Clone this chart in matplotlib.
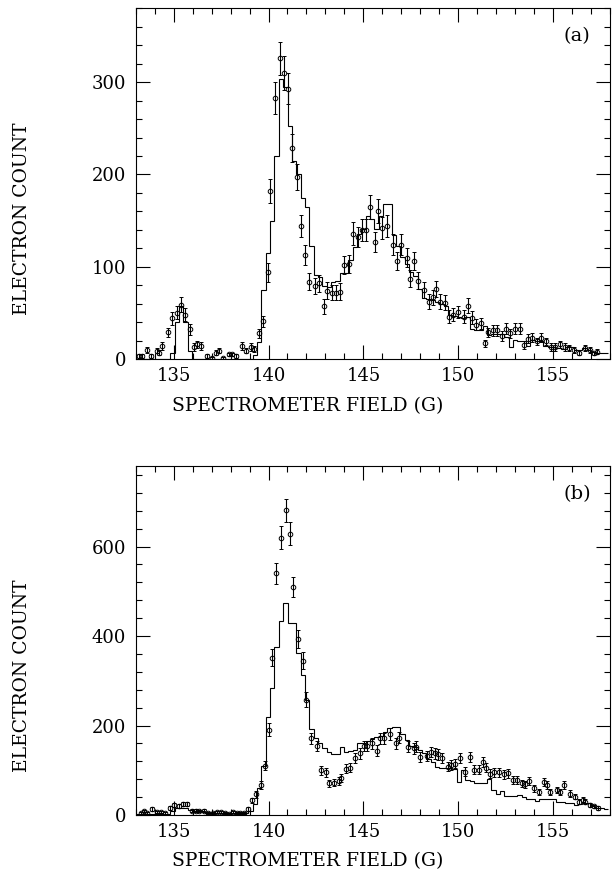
import matplotlib
matplotlib.use("Agg")
import matplotlib.pyplot as plt
import numpy as np
from matplotlib.ticker import MultipleLocator

plt.rcParams['font.family'] = ['DejaVu Serif']

# ---- panel (a): measured points ----
field_a = [133.17, 133.35, 133.57, 133.78, 134.10, 134.25, 134.40, 134.69, 134.90, 135.17,
           135.38, 135.60, 135.85, 136.06, 136.25, 136.45, 136.74, 137.00, 137.21, 137.39,
           137.58, 137.91, 138.08, 138.26, 138.59, 138.80, 139.06, 139.22, 139.48, 139.72,
           139.95, 140.07, 140.35, 140.63, 140.84, 141.05, 141.25, 141.48, 141.72, 141.92,
           142.14, 142.44, 142.68, 142.93, 143.08, 143.33, 143.57, 143.78, 143.97, 144.23,
           144.46, 144.72, 144.95, 145.12, 145.33, 145.61, 145.78, 145.99, 146.25, 146.55,
           146.79, 146.99, 147.28, 147.47, 147.65, 147.89, 148.17, 148.45, 148.66, 148.81,
           149.04, 149.32, 149.53, 149.74, 149.98, 150.28, 150.52, 150.75, 150.96, 151.20,
           151.41, 151.57, 151.81, 152.06, 152.32, 152.54, 152.75, 153.01, 153.26, 153.47,
           153.69, 153.90, 154.13, 154.36, 154.63, 154.88, 155.12, 155.37, 155.61, 155.86,
           156.10, 156.36, 156.67, 156.92, 157.16, 157.32]
count_a = [3, 3, 10, 3, 9, 7, 14, 29, 44, 50,
           59, 48, 32, 13, 16, 14, 3, 1, 7, 9,
           1, 5, 5, 3, 14, 9, 13, 11, 28, 41,
           94, 182, 283, 326, 310, 293, 229, 197, 144, 113,
           84, 79, 82, 57, 74, 72, 72, 73, 102, 103,
           136, 132, 140, 140, 165, 127, 160, 142, 144, 124,
           106, 124, 110, 87, 106, 85, 75, 62, 67, 76,
           62, 61, 46, 48, 51, 46, 58, 45, 37, 39,
           17, 29, 31, 31, 25, 33, 28, 33, 33, 15,
           22, 23, 19, 23, 19, 13, 13, 16, 13, 12,
           10, 7, 12, 10, 6, 8]
err_a = [2, 2, 3, 2, 3, 3, 4, 5, 7, 7,
         8, 7, 6, 4, 4, 4, 2, 1, 3, 3,
         1, 2, 2, 2, 4, 3, 4, 3, 5, 6,
         10, 13, 17, 18, 18, 17, 15, 14, 12, 11,
         9, 9, 9, 8, 9, 8, 8, 9, 10, 10,
         12, 11, 12, 12, 13, 11, 13, 12, 12, 11,
         10, 11, 10, 9, 10, 9, 9, 8, 8, 9,
         8, 8, 7, 7, 7, 7, 8, 7, 6, 6,
         4, 5, 6, 6, 5, 6, 5, 6, 6, 4,
         5, 5, 4, 5, 4, 4, 4, 4, 4, 3,
         3, 3, 3, 3, 2, 3]

# ---- panel (a): simulated histogram ----
hist_a = [0, 0, 0, 0, 0, 0, 0, 0, 7, 40,
          58, 40, 9, 0, 0, 0, 0, 0, 0, 0,
          0, 0, 0, 0, 0, 0, 0, 4, 18, 75,
          115, 150, 220, 303, 295, 252, 215, 200, 175, 165,
          123, 91, 89, 79, 78, 83, 85, 93, 93, 107,
          121, 136, 141, 155, 152, 141, 155, 168, 168, 134,
          123, 111, 103, 94, 90, 76, 66, 65, 64, 62,
          60, 57, 48, 47, 46, 44, 46, 33, 31, 31,
          36, 26, 27, 27, 27, 24, 13, 21, 20, 20,
          14, 21, 20, 19, 14, 13, 13, 12, 11, 13,
          13, 10, 10, 12, 10, 8, 6, 6, 6]

# ---- panel (b): measured points ----
field_b = [133.26, 133.43, 133.61, 133.87, 134.13, 134.34, 134.55, 134.79, 135.03, 135.26,
           135.49, 135.71, 135.99, 136.18, 136.36, 136.60, 136.83, 137.06, 137.30, 137.47,
           137.70, 137.93, 138.14, 138.36, 138.52, 138.69, 138.92, 139.15, 139.36, 139.58,
           139.83, 140.02, 140.17, 140.42, 140.66, 140.94, 141.15, 141.29, 141.53, 141.81,
           142.00, 142.25, 142.56, 142.75, 143.01, 143.19, 143.47, 143.71, 143.80, 144.08,
           144.29, 144.58, 144.84, 145.03, 145.21, 145.45, 145.73, 145.89, 146.11, 146.41,
           146.71, 146.90, 147.37, 147.68, 147.77, 148.01, 148.33, 148.55, 148.76, 148.94,
           149.16, 149.46, 149.63, 149.81, 150.10, 150.33, 150.63, 150.82, 151.08, 151.29,
           151.46, 151.67, 151.90, 152.16, 152.42, 152.63, 152.86, 153.12, 153.34, 153.50,
           153.73, 153.99, 154.25, 154.51, 154.69, 154.86, 155.21, 155.38, 155.56, 155.87,
           156.13, 156.38, 156.57, 156.69, 156.95, 157.16, 157.39]
count_b = [4, 9, 5, 13, 7, 7, 5, 16, 22, 20,
           25, 25, 10, 10, 9, 10, 4, 4, 7, 7,
           5, 2, 7, 5, 4, 5, 13, 33, 46, 67,
           110, 191, 351, 540, 620, 681, 629, 510, 393, 345,
           258, 171, 154, 100, 95, 71, 72, 76, 82, 103,
           106, 127, 138, 154, 154, 160, 144, 171, 171, 181,
           160, 173, 153, 149, 153, 130, 132, 141, 138, 136,
           128, 108, 112, 115, 127, 97, 130, 101, 101, 119,
           106, 92, 95, 95, 91, 93, 78, 78, 71, 69,
           76, 60, 52, 74, 67, 52, 56, 52, 67, 48,
           41, 30, 34, 30, 22, 19, 16]
err_b = [2, 3, 2, 4, 3, 3, 2, 4, 5, 4,
         5, 5, 3, 3, 3, 3, 2, 2, 3, 3,
         2, 1, 3, 2, 2, 2, 4, 6, 7, 8,
         10, 14, 19, 23, 25, 26, 25, 23, 20, 19,
         16, 13, 12, 10, 10, 8, 8, 9, 9, 10,
         10, 11, 12, 12, 12, 13, 12, 13, 13, 13,
         13, 13, 12, 12, 12, 11, 11, 12, 12, 12,
         11, 10, 11, 11, 11, 10, 11, 10, 10, 11,
         10, 10, 10, 10, 10, 10, 9, 9, 8, 8,
         9, 8, 7, 9, 8, 7, 7, 7, 8, 7,
         6, 5, 6, 5, 5, 4, 4]

# ---- panel (b): simulated histogram ----
hist_b = [3, 3, 3, 3, 3, 3, 3, 3, 8, 15,
          16, 16, 12, 10, 8, 8, 4, 4, 4, 4,
          4, 4, 4, 4, 4, 4, 10, 25, 60, 110,
          220, 283, 375, 434, 474, 430, 428, 361, 313, 257,
          193, 172, 160, 150, 140, 137, 136, 153, 141, 143,
          146, 160, 162, 165, 170, 175, 176, 186, 195, 197,
          197, 182, 168, 154, 153, 145, 138, 126, 119, 108,
          104, 104, 104, 102, 74, 100, 78, 75, 71, 71,
          71, 80, 55, 48, 54, 43, 43, 43, 45, 40,
          35, 35, 32, 35, 35, 35, 35, 30, 28, 26,
          26, 23, 24, 26, 26, 19, 15, 15, 14]

bin_start = 133.0
bin_width = 0.2286

xticks = [135, 140, 145, 150, 155]


def draw_panel(ax, field, count, err, hist, ymax, ymajor, yminor, tag):
    edges = bin_start + bin_width * np.arange(len(hist) + 1)
    ax.stairs(hist, edges, color='black', linewidth=0.8, baseline=None)
    ax.errorbar(field, count, yerr=err, fmt='o', ms=3.3, mfc='none', mec='black',
                mew=0.7, ecolor='black', elinewidth=0.8, capsize=1.4, capthick=0.8)
    ax.set_xlim(133, 158)
    ax.set_ylim(0, ymax)
    ax.set_xticks(xticks)
    ax.xaxis.set_minor_locator(MultipleLocator(1))
    ax.yaxis.set_major_locator(MultipleLocator(ymajor))
    ax.yaxis.set_minor_locator(MultipleLocator(yminor))
    ax.tick_params(which='both', direction='in', top=True, right=True, labelsize=13)
    ax.tick_params(which='major', length=10, width=0.8)
    ax.tick_params(which='minor', length=4, width=0.8)
    ax.tick_params(axis='y', pad=7)
    ax.tick_params(axis='x', pad=6)
    for s in ax.spines.values():
        s.set_linewidth(0.8)
    ax.text(0.93, 0.92, tag, transform=ax.transAxes, fontsize=14, ha='center', va='center')
    ax.text(0.077, -0.133, 'SPECTROMETER FIELD (G)', transform=ax.transAxes,
            fontsize=13.5, ha='left', va='center')
    ax.text(-0.24, 0.40, 'ELECTRON COUNT', transform=ax.transAxes, rotation=90,
            fontsize=13.5, ha='center', va='center')


fig = plt.figure(figsize=(6.16, 8.71), dpi=100)
ax_a = fig.add_axes([0.2203, 0.5878, 0.770, 0.4026])
ax_b = fig.add_axes([0.2203, 0.0643, 0.770, 0.4007])

draw_panel(ax_a, field_a, count_a, err_a, hist_a, 380, 100, 20, '(a)')
draw_panel(ax_b, field_b, count_b, err_b, hist_b, 780, 200, 40, '(b)')

fig.savefig('out.png', dpi=100)
